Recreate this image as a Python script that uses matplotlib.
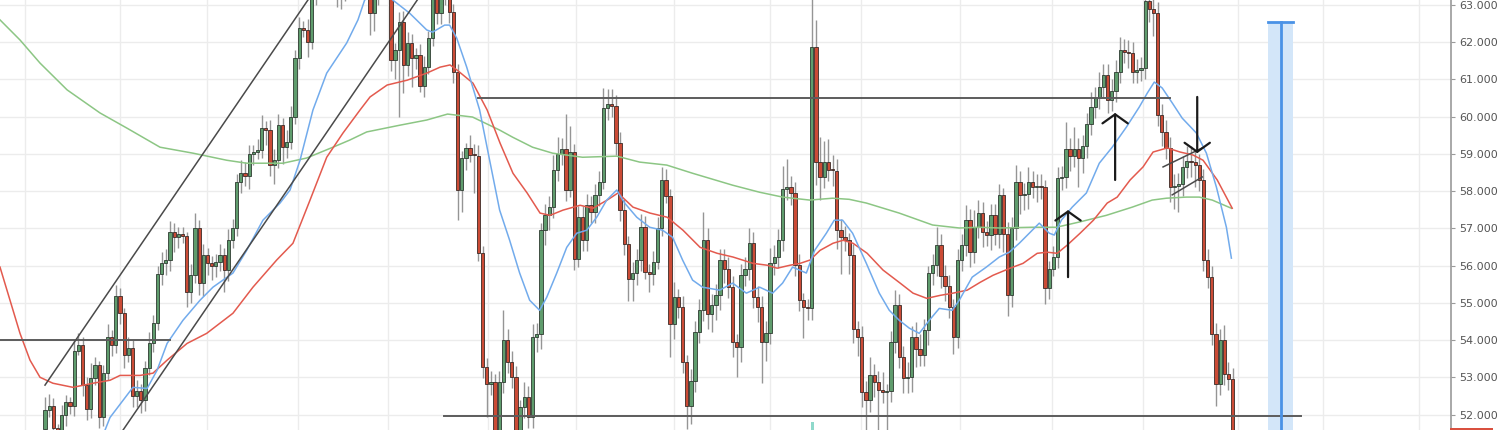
import matplotlib
matplotlib.use("Agg")
import matplotlib.pyplot as plt
from matplotlib.patches import Rectangle
import numpy as np

# candle closes left to right (open = previous close)
first_open = 51.6
closes = [
    52.13, 52.24, 51.64, 51.55, 52.00, 52.33, 52.22, 53.70, 53.88, 52.80,
    52.15, 52.98, 53.34, 51.94, 53.12, 54.08, 53.86, 55.19, 54.72, 53.61,
    53.79, 52.51, 52.63, 52.40, 53.25, 53.92, 54.46, 55.78, 56.06, 56.15,
    56.89, 56.76, 56.85, 56.80, 55.30, 55.74, 57.02, 55.52, 56.28, 56.06,
    56.00, 56.10, 56.28, 55.88, 56.68, 57.00, 58.25, 58.48, 58.40, 59.00,
    59.05, 59.10, 59.69, 59.65, 58.70, 58.83, 59.77, 59.19, 59.33, 60.00,
    61.58, 62.37, 62.33, 62.01, 63.30, 63.60, 63.90, 64.20, 64.00, 63.70,
    63.40, 63.50, 63.90, 64.20, 64.40, 64.10, 63.80, 63.60, 62.78, 63.40,
    63.80, 64.00, 63.70, 61.52, 61.79, 62.55, 61.39, 61.97, 61.57, 61.65,
    60.83, 61.34, 62.10, 63.30, 62.78, 63.30, 63.40, 62.82, 61.21, 58.03,
    58.88, 59.15, 58.97, 58.95, 56.33, 53.28, 52.83, 52.88, 51.40, 52.87,
    54.00, 53.41, 53.01, 51.50, 52.20, 52.47, 51.93, 54.08, 54.17, 56.95,
    57.35, 57.58, 58.58, 59.01, 59.13, 58.03, 59.06, 56.19, 57.31, 56.68,
    57.62, 57.44, 57.90, 58.25, 60.22, 60.34, 60.29, 59.28, 57.49, 56.59,
    55.65, 55.79, 56.15, 57.04, 55.83, 55.78, 56.10, 57.00, 58.30, 57.87,
    54.44, 55.16, 54.89, 53.41, 52.24, 52.91, 54.22, 54.80, 56.70, 54.71,
    54.94, 55.20, 56.14, 55.92, 55.43, 53.95, 53.81, 55.74, 55.92, 56.61,
    55.16, 54.89, 53.95, 54.20, 56.06, 56.24, 56.68, 58.07, 58.10, 57.94,
    56.01, 55.07, 54.89, 54.85, 61.88, 58.79, 58.38, 58.79, 58.57, 58.55,
    56.95, 56.77, 56.68, 56.28, 54.31, 54.08, 52.60, 52.38, 53.05, 52.87,
    52.65, 52.60, 52.63, 53.95, 54.94, 53.55, 52.97, 53.00, 54.08, 53.77,
    53.59, 54.26, 55.79, 56.01, 56.55, 55.71, 55.44, 54.89, 54.08, 56.15,
    56.55, 57.22, 56.37, 57.04, 57.40, 56.91, 56.82, 57.36, 56.86, 57.89,
    56.86, 55.20, 57.00, 58.25, 57.89, 57.92, 58.25, 58.12, 58.15, 58.10,
    55.41, 55.92, 56.23, 58.34, 58.38, 59.12, 58.95, 59.12, 58.90, 59.20,
    59.80, 60.27, 60.50, 60.80, 61.12, 60.45, 60.70, 61.21, 61.79, 61.75,
    61.70, 61.21, 61.25, 61.30, 63.10, 62.90, 62.78, 60.04, 59.60, 59.15,
    58.12, 58.15, 58.18, 58.65, 58.82, 58.77, 58.70, 58.30, 56.15, 55.70,
    54.17, 52.83, 54.00, 53.10, 52.96, 51.30,
]

# wick length above / below each body
wick_up = [
    0.35, 0.30, 0.20, 0.10, 0.25, 0.20, 0.15, 0.30, 0.30, 0.20,
    0.20, 0.40, 0.20, 0.10, 0.20, 0.35, 0.20, 0.30, 0.20, 0.15,
    0.30, 0.20, 0.30, 0.20, 0.20, 0.30, 0.20, 0.20, 0.30, 0.30,
    0.30, 0.25, 0.20, 0.20, 0.10, 0.30, 0.40, 0.20, 0.30, 0.20,
    0.20, 0.20, 0.30, 0.20, 0.30, 0.25, 0.20, 0.35, 0.30, 0.25,
    0.20, 0.30, 0.35, 0.20, 0.25, 0.30, 0.30, 0.20, 0.30, 0.30,
    0.20, 0.30, 0.20, 0.30, 0.30, 0.30, 0.30, 0.30, 0.30, 0.30,
    0.30, 0.30, 0.30, 0.30, 0.30, 0.30, 0.30, 0.30, 0.30, 0.30,
    0.30, 0.30, 0.30, 0.30, 0.20, 0.25, 0.30, 0.30, 0.25, 0.20,
    0.30, 0.30, 0.20, 0.30, 0.30, 0.30, 0.30, 0.30, 0.20, 0.20,
    0.20, 0.15, 0.35, 0.30, 0.30, 0.20, 0.25, 0.30, 0.20, 0.30,
    0.80, 0.30, 0.30, 0.30, 0.20, 0.40, 0.30, 0.35, 0.30, 0.20,
    0.30, 0.30, 0.40, 0.45, 0.30, 0.95, 0.70, 0.20, 0.30, 0.30,
    0.30, 0.25, 0.30, 0.30, 0.55, 0.40, 0.40, 0.30, 0.30, 0.30,
    0.20, 0.30, 0.30, 0.35, 0.30, 0.20, 0.30, 0.30, 0.35, 0.30,
    0.20, 0.40, 0.20, 0.30, 0.20, 0.30, 0.30, 0.30, 0.75, 0.30,
    0.30, 0.30, 0.30, 0.30, 0.30, 0.30, 0.20, 0.30, 0.30, 0.40,
    0.30, 0.30, 0.30, 0.30, 0.40, 0.30, 0.30, 0.60, 0.75, 0.30,
    0.30, 0.30, 0.20, 0.20, 1.42, 0.72, 0.66, 0.56, 0.60, 0.40,
    0.30, 0.30, 0.30, 0.20, 0.30, 0.20, 0.30, 0.30, 0.50, 0.30,
    0.30, 0.50, 0.20, 0.30, 0.40, 0.30, 0.30, 0.40, 0.30, 0.40,
    0.40, 0.30, 0.20, 0.30, 0.50, 0.30, 0.30, 0.30, 0.20, 0.30,
    0.30, 0.40, 0.30, 0.45, 0.35, 0.30, 0.30, 0.30, 0.30, 0.30,
    0.20, 0.30, 0.30, 0.45, 0.30, 0.30, 0.40, 0.30, 0.30, 0.30,
    0.20, 0.20, 0.30, 0.30, 0.30, 0.75, 0.30, 0.60, 0.30, 0.30,
    0.30, 0.40, 0.30, 0.40, 0.30, 0.30, 0.30, 0.30, 0.35, 0.30,
    0.30, 0.30, 0.30, 0.30, 0.40, 0.30, 0.30, 0.30, 0.30, 0.30,
    0.30, 0.30, 0.30, 0.30, 0.40, 0.40, 0.30, 0.30, 0.30, 0.30,
    0.30, 0.30, 0.30, 0.40, 0.30, 0.30,
]
wick_dn = [
    0.30, 0.20, 0.30, 0.30, 0.20, 0.30, 0.20, 0.25, 0.10, 0.30,
    0.30, 0.25, 0.20, 0.30, 0.25, 0.20, 0.30, 0.20, 0.30, 0.35,
    0.20, 0.30, 0.30, 0.35, 0.30, 0.20, 0.25, 0.20, 0.30, 0.30,
    0.30, 0.40, 0.30, 0.20, 0.40, 0.30, 0.20, 0.30, 0.35, 0.30,
    0.40, 0.30, 0.25, 0.60, 0.30, 0.20, 0.20, 0.30, 0.25, 0.35,
    0.30, 0.20, 0.20, 0.40, 0.30, 0.50, 0.20, 0.45, 0.30, 0.20,
    0.20, 0.30, 0.20, 0.40, 0.20, 0.30, 0.40, 0.40, 0.40, 0.50,
    0.45, 0.50, 0.40, 0.40, 0.40, 0.30, 0.30, 0.40, 0.58, 0.48,
    0.40, 0.40, 0.40, 0.30, 0.50, 1.79, 0.76, 0.30, 0.77, 0.30,
    0.16, 0.30, 0.20, 0.20, 0.30, 0.30, 0.30, 0.30, 0.30, 0.80,
    0.60, 0.30, 0.20, 1.00, 0.20, 0.30, 0.90, 0.30, 0.50, 0.30,
    0.30, 0.30, 0.30, 0.40, 0.30, 0.30, 0.30, 0.30, 0.40, 0.40,
    0.40, 0.40, 0.30, 0.30, 0.30, 0.30, 0.20, 0.30, 0.22, 0.30,
    0.30, 0.30, 0.30, 0.30, 0.20, 0.30, 0.30, 0.30, 0.30, 0.30,
    0.60, 0.60, 0.30, 0.30, 0.20, 0.50, 0.30, 0.20, 0.20, 0.20,
    0.90, 0.40, 0.30, 0.30, 0.64, 0.50, 0.30, 0.30, 0.30, 0.40,
    0.50, 0.40, 0.40, 0.40, 0.30, 0.40, 0.80, 0.40, 0.30, 0.30,
    0.30, 0.40, 1.10, 0.50, 0.30, 0.30, 0.30, 0.30, 0.30, 0.30,
    0.30, 0.30, 0.84, 0.30, 0.30, 0.62, 0.62, 0.30, 0.30, 0.40,
    0.50, 1.00, 0.30, 0.50, 0.40, 0.50, 0.40, 0.90, 0.30, 0.40,
    1.10, 0.30, 1.10, 0.30, 0.30, 0.30, 0.40, 0.40, 0.40, 0.50,
    0.30, 0.30, 0.40, 0.30, 0.30, 0.30, 0.40, 0.30, 0.45, 0.30,
    0.30, 0.30, 0.40, 0.30, 0.30, 0.40, 0.30, 0.40, 0.30, 0.40,
    0.50, 0.55, 0.30, 0.30, 0.50, 0.40, 0.40, 0.30, 0.40, 0.30,
    0.45, 0.30, 0.20, 0.30, 0.30, 0.30, 0.40, 0.30, 0.80, 0.40,
    0.30, 0.30, 0.30, 0.30, 0.30, 0.35, 0.30, 0.30, 0.30, 0.30,
    0.40, 0.30, 0.30, 0.30, 0.30, 0.35, 0.60, 0.30, 0.40, 0.30,
    0.40, 0.60, 0.70, 0.30, 0.30, 0.40, 0.60, 0.30, 0.30, 0.30,
    0.30, 0.60, 0.30, 0.30, 0.30, 0.30,
]

# moving averages (bar position, price)
ma_fast_x = [10, 14.4, 15.6, 21.1, 24.5, 26.9, 29.3, 33.1, 37.2, 40.3, 45.1, 48.4, 52.3, 56.4,
             58.8, 61.2, 64.3, 67.6, 72.4, 75.1, 76.7, 80, 83.5, 87.5, 91.6, 93.0, 95.9, 97.1,
             98.8, 101.2, 104.3, 106.7, 109.1, 111.5, 113.9, 116.3, 118.7, 120.4, 122.8, 125.2,
             127.6, 130.0, 132.4, 134.8, 137.2, 139.1, 142.0, 145.1, 148.2, 150.6, 153.0, 155.4,
             157.8, 161.9, 165.0, 168.3, 171.5, 174.6, 177.0, 179.4, 182.7, 184.7, 187.5, 189.4,
             191.4, 193.8, 197.1, 200.2, 202.6, 205.0, 207.4, 209.8, 212.2, 214.6, 217.7, 219.4,
             222.5, 225.9, 229.0, 231.4, 233.8, 236.2, 238.6, 241.0, 242.2, 243.9, 246.5, 249.9,
             253.0, 256.1, 259.5, 262.6, 264.5, 266.2, 268.1, 270.5, 272.9, 276.3, 278.7, 281.1,
             283.5, 284.7]
ma_fast_y = [50.9, 51.58, 51.92, 52.73, 52.70, 53.19, 53.91, 54.53, 55.07, 55.42, 55.80, 56.41, 57.22, 57.68,
             58.03, 58.83, 60.18, 61.17, 61.98, 62.60, 63.13, 63.5, 63.13, 62.78, 62.33, 62.27, 62.46, 62.46,
             62.11, 61.33, 60.18, 58.83, 57.49, 56.68, 55.80, 55.07, 54.80, 55.15, 55.80, 56.49,
             56.87, 56.95, 57.30, 57.76, 58.03, 57.68, 57.30, 57.03, 56.95, 56.76, 56.15, 55.61,
             55.42, 55.34, 55.53, 55.26, 55.42, 55.26, 55.53, 55.96, 55.80, 56.41, 56.87, 57.22,
             57.22, 56.87, 56.06, 55.26, 54.80, 54.53, 54.32, 54.18, 54.53, 54.85, 54.80, 55.07,
             55.69, 55.96, 56.23, 56.36, 56.60, 56.87, 57.14, 56.87, 56.82, 57.22, 57.57, 57.95,
             58.75, 59.18, 59.72, 60.26, 60.63, 60.93, 60.77, 60.37, 59.96, 59.56, 59.02, 58.11,
             57.03, 56.20]

ma_mid_x = [-10.8, -8.4, -6.0, -3.6, -1.2, 1.9, 6.7, 11.5, 15.6, 18.0, 22.8, 25.9, 29.3, 34.1, 38.8,
            45.1, 49.9, 55.6, 59.5, 63.6, 67.6, 71.5, 75.6, 78.0, 82.1, 86.9, 91.6, 94.8, 97.2,
            98.9, 102.7, 106.1, 109.2, 112.3, 115.7, 118.8, 121.2, 124.3, 128.4, 131.5, 134.9,
            137.5, 141.1, 145.2, 149.3, 153.1, 157.2, 161.3, 165.1, 169.9, 173.3, 175.7, 178.8,
            181.2, 183.6, 186.0, 189.1, 191.5, 193.9, 197.3, 201.1, 205.2, 208.3, 211.6, 214.8,
            217.9, 221.3, 224.4, 227.5, 231.6, 234.7, 238.1, 240.5, 242.9, 245.3, 248.4, 251.6,
            254.9, 257.3, 260.4, 263.5, 265.9, 269.3, 272.4, 275.5, 277.9, 281.3, 284.9]
ma_mid_y = [55.96, 55.07, 54.18, 53.46, 53.00, 52.84, 52.73, 52.84, 52.92, 53.05, 53.05, 53.11, 53.46, 53.91, 54.18,
            54.72, 55.42, 56.15, 56.60, 57.76, 58.91, 59.56, 60.18, 60.53, 60.85, 60.98, 61.17, 61.33, 61.39,
            61.25, 60.90, 60.18, 59.29, 58.48, 57.95, 57.41, 57.35, 57.49, 57.62, 57.54, 57.76,
            57.95, 57.57, 57.41, 57.30, 56.95, 56.49, 56.33, 56.23, 56.06, 56.01, 55.93, 56.01,
            56.06, 56.15, 56.41, 56.60, 56.68, 56.60, 56.33, 55.88, 55.53, 55.26, 55.12, 55.20,
            55.26, 55.34, 55.55, 55.74, 55.93, 56.06, 56.33, 56.36, 56.33, 56.55, 56.87, 57.22,
            57.68, 57.84, 58.30, 58.65, 59.05, 59.16, 59.05, 58.97, 58.83, 58.30, 57.54]

ma_slow_x = [-10.8, -6.0, -1.2, 5.3, 13.2, 19.7, 27.6, 35.5, 43.6, 48.4, 57.1, 62.8, 69.1, 73.1, 77.2,
             85.1, 91.6, 96.6, 102.6, 109.1, 112.2, 117.0, 121.8, 129.0, 137.2, 142.7, 149.2, 155.4,
             165.0, 171.5, 177.0, 183.5, 189.0, 193.0, 197.1, 205.0, 213.0, 219.4, 224.2, 229.0,
             236.9, 242.7, 248.2, 254.7, 260.9, 265.7, 269.1, 273.9, 277.0, 280.1, 284.7]
ma_slow_y = [62.60, 62.06, 61.44, 60.72, 60.10, 59.69, 59.18, 59.02, 58.83, 58.75, 58.75, 58.89, 59.18, 59.37, 59.59,
             59.77, 59.91, 60.07, 59.99, 59.64, 59.45, 59.18, 59.02, 58.91, 58.94, 58.78, 58.70, 58.48,
             58.16, 57.97, 57.84, 57.76, 57.81, 57.78, 57.68, 57.41, 57.09, 57.01, 57.03, 57.01,
             57.03, 57.03, 57.17, 57.35, 57.57, 57.76, 57.81, 57.84, 57.84, 57.76, 57.54]

# hand drawn levels: price, from bar, to bar
level_prices = [54.0, 60.49, 51.95]
level_from = [-10.8, 103.9, 95.8]
level_to = [30.0, 270.0, 301.4]

# trend lines ((x0, y0), (x1, y1)) in bar / price units
trend_lines = [((0, 52.79), (66, 63.61)),
               ((17, 51.30), (92, 63.57)),
               ((268.3, 58.65), (277.7, 59.16)),
               ((270.5, 57.90), (277.7, 58.38))]

# arrows: bar, tail price, head price
arrow_bars = [245.5, 256.8, 276.5]
arrow_tail = [55.69, 58.30, 60.53]
arrow_head = [57.49, 60.10, 59.02]

# projection box of the range tool
proj_left, proj_right, proj_top = 293.5, 299.5, 62.55

# session separators (bar positions)
day_marks = [-4.8, 18.0, 38.9, 60.7, 82.3, 106.3, 127.4, 151.0, 174.0, 195.8,
             219.6, 241.7, 263.5, 286.3, 306.7, 329.8]
price_ticks = list(range(52, 64))

UP = "#5f9c6d"
DOWN = "#cb4b36"


def draw_candles(ax):
    n = len(closes)
    idx = np.arange(n)
    c = np.array(closes)
    o = np.array([first_open] + closes[:-1])
    hi = np.maximum(o, c) + np.array(wick_up)
    lo = np.minimum(o, c) - np.array(wick_dn)
    ax.vlines(idx, lo, hi, color="#959595", lw=1, zorder=2)
    up = c >= o
    body = np.where(np.abs(c - o) < 0.03, 0.03, c - o)
    ax.bar(idx[up], body[up], bottom=o[up], width=0.78, color=UP,
           edgecolor="#2d3a30", linewidth=0.6, zorder=3)
    ax.bar(idx[~up], body[~up], bottom=o[~up], width=0.78, color=DOWN,
           edgecolor="#3a2a26", linewidth=0.6, zorder=3)


def draw_annotations(ax):
    for p, a, b in zip(level_prices, level_from, level_to):
        ax.plot([a, b], [p, p], color="#5c5c5c", lw=1.4, zorder=5)
    for (x0, y0), (x1, y1) in trend_lines:
        ax.plot([x0, x1], [y0, y1], color="#4a4a4a", lw=1.1, zorder=5)
    for x, y0, y1 in zip(arrow_bars, arrow_tail, arrow_head):
        ax.annotate("", xy=(x, y1), xytext=(x, y0),
                    arrowprops=dict(arrowstyle="->,head_length=0.5,head_width=0.7",
                                    color="#1a1a1a", lw=1.6, shrinkA=0, shrinkB=0,
                                    mutation_scale=13),
                    zorder=6)
    # range tool
    ax.add_patch(Rectangle((proj_left, 51.0), proj_right - proj_left, proj_top - 51.0,
                           facecolor="#d3e6f9", edgecolor="none", zorder=1.5))
    mid = (proj_left + proj_right) / 2
    ax.plot([mid, mid], [51.0, proj_top], color="#4a92e6", lw=2, zorder=5)
    ax.plot([proj_left, proj_right], [proj_top, proj_top], color="#4a92e6", lw=2, zorder=5)
    # event marker at the bottom
    ax.add_patch(Rectangle((183.7, 51.5), 0.8, 0.3, facecolor="#8fd9cb",
                           edgecolor="none", zorder=6))


def main():
    fig = plt.figure(figsize=(15, 4.3), dpi=100)
    ax = fig.add_axes([0, 0, 1451 / 1500, 1])
    ax.set_xlim(-10.8, 337.4)
    ax.set_ylim(51.584, 63.134)

    ax.set_xticks(day_marks)
    ax.set_xticklabels([])
    ax.set_yticks(price_ticks)
    ax.set_yticklabels([f"{v:.3f}" for v in price_ticks])
    ax.yaxis.tick_right()
    ax.tick_params(axis="x", length=0)
    ax.tick_params(axis="y", length=3, color="#9a9a9a", labelcolor="#555555",
                   labelsize=8, pad=3)
    ax.grid(color="#ececec", lw=1)
    ax.set_axisbelow(True)
    for side in ["left", "top", "bottom"]:
        ax.spines[side].set_visible(False)
    ax.spines["right"].set_color("#9a9a9a")
    ax.spines["right"].set_linewidth(1.2)

    draw_candles(ax)
    ax.plot(ma_slow_x, ma_slow_y, color="#8cc684", lw=1.1, zorder=4)
    ax.plot(ma_mid_x, ma_mid_y, color="#e35a4e", lw=1.1, zorder=4)
    ax.plot(ma_fast_x, ma_fast_y, color="#72abec", lw=1.1, zorder=4)
    draw_annotations(ax)

    # last price tag peeking at the bottom of the scale
    fig.patches.append(Rectangle((1450 / 1500, 0), 43 / 1500, 2.5 / 430,
                                 transform=fig.transFigure, facecolor="#d9503f",
                                 edgecolor="none"))

    fig.savefig("out.png", dpi=100)


if __name__ == "__main__":
    main()
